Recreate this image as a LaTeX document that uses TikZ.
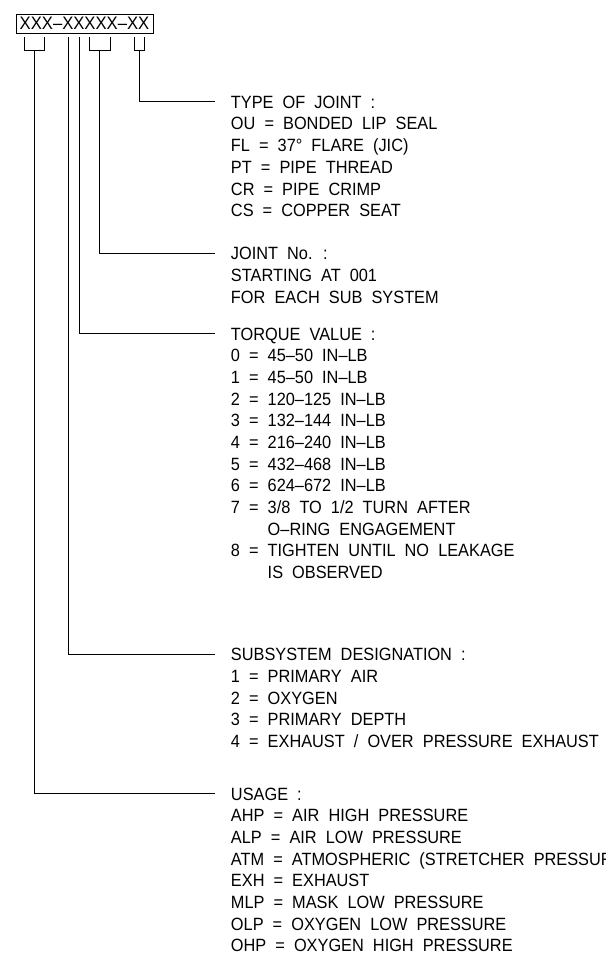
\documentclass[tikz,border=0pt]{standalone}
\usepackage{fontspec}
\setmainfont{Liberation Sans}[FakeStretch=0.92,WordSpace=2]
\usetikzlibrary{positioning,calc}
\newcommand{\legendrows}[1]{\begin{tabular}[t]{@{}l@{}}#1\end{tabular}}

\begin{document}
\begin{tikzpicture}[
    x=0.02cm, y=-0.02cm,
    line width=0.55pt,
    codebox/.style={draw, inner sep=0pt, minimum width=2.74cm, minimum height=0.38cm,
                    font=\fontsize{10.3}{12}\selectfont},
    legend/.style={anchor=base west, inner sep=0pt,
                   font=\fontsize{10.1}{12.35}\selectfont},
    leader/.style={draw}
]
    \useasboundingbox (0,0) rectangle (605,970);

    \node[codebox] (code) at (84.5,23.5) {XXX–XXXXX–XX};

    % brackets under the code
    \draw (24,37) |- (44.3,50) -- (44.3,37);
    \draw (89.3,37) |- (110,50) -- (110,37);
    \draw (134.3,37) |- (144,50) -- (144,37);
    \coordinate (usg) at (34.7,50);
    \coordinate (sub) at (68.7,37);
    \coordinate (trq) at (79,37);
    \coordinate (jno) at (99.7,50);
    \coordinate (typ) at (139.3,50);

    \node[legend] (type) at (230.5,108.3) {\legendrows{TYPE OF JOINT :\\
        OU = BONDED LIP SEAL\\
        FL = 37° FLARE (JIC)\\
        PT = PIPE THREAD\\
        CR = PIPE CRIMP\\
        CS = COPPER SEAT}};
    \node[legend] (joint) at (230.5,259.6) {\legendrows{JOINT No. :\\
        STARTING AT 001\\
        FOR EACH SUB SYSTEM}};
    \node[legend] (torque) at (230.5,340) {\legendrows{TORQUE VALUE :\\
        0 = 45–50 IN–LB\\
        1 = 45–50 IN–LB\\
        2 = 120–125 IN–LB\\
        3 = 132–144 IN–LB\\
        4 = 216–240 IN–LB\\
        5 = 432–468 IN–LB\\
        6 = 624–672 IN–LB\\
        7 = 3/8 TO 1/2 TURN AFTER\\
        \phantom{7 = }O–RING ENGAGEMENT\\
        8 = TIGHTEN UNTIL NO LEAKAGE\\
        \phantom{8 = }IS OBSERVED}};
    \node[legend] (subsys) at (230.5,660.6) {\legendrows{SUBSYSTEM DESIGNATION :\\
        1 = PRIMARY AIR\\
        2 = OXYGEN\\
        3 = PRIMARY DEPTH\\
        4 = EXHAUST / OVER PRESSURE EXHAUST}};
    \node[legend] (usage) at (230.5,800) {\legendrows{USAGE :\\
        AHP = AIR HIGH PRESSURE\\
        ALP = AIR LOW PRESSURE\\
        ATM = ATMOSPHERIC (STRETCHER PRESSURE\\
        EXH = EXHAUST\\
        MLP = MASK LOW PRESSURE\\
        OLP = OXYGEN LOW PRESSURE\\
        OHP = OXYGEN HIGH PRESSURE}};

    \draw[leader] (typ) |- ([xshift=-0.31cm,yshift=0.127cm]type.base west);
    \draw[leader] (jno) |- ([xshift=-0.31cm,yshift=0.127cm]joint.base west);
    \draw[leader] (trq) |- ([xshift=-0.31cm,yshift=0.127cm]torque.base west);
    \draw[leader] (sub) |- ([xshift=-0.31cm,yshift=0.127cm]subsys.base west);
    \draw[leader] (usg) |- ([xshift=-0.31cm,yshift=0.127cm]usage.base west);
\end{tikzpicture}
\end{document}
